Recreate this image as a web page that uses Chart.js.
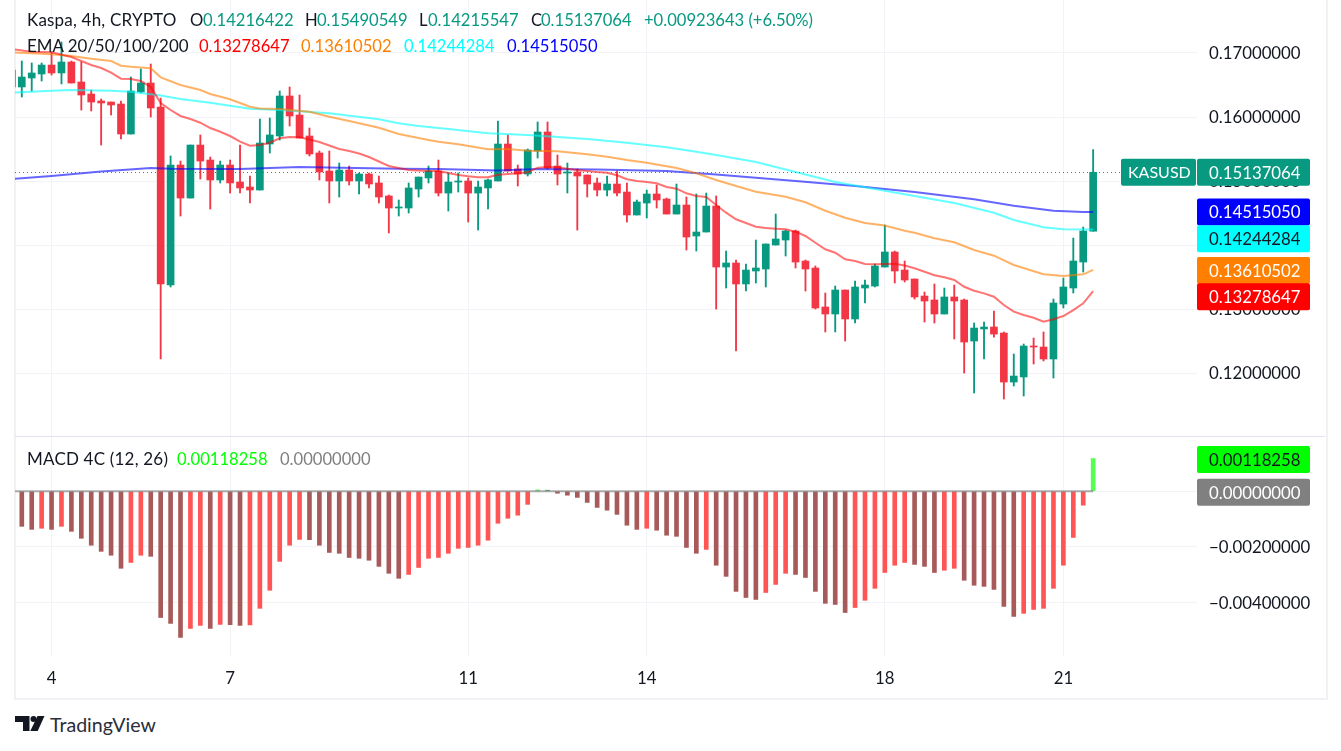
<!DOCTYPE html>
<html>
<head>
<meta charset="utf-8">
<title>Kaspa 4h</title>
<script src="https://cdn.jsdelivr.net/npm/chart.js@4/dist/chart.umd.min.js"></script>
<style>
    html, body { margin: 0; padding: 0; background: #fff; }
    body { width: 1341px; height: 751px; position: relative; overflow: hidden; font-family: Lato, sans-serif; color: #131722; }
    canvas { position: absolute; left: 0; }
    #frame { position: absolute; left: 14px; top: -4px; width: 1310px; height: 700px; border: 2px solid #f0f0f5; }
    #sep { position: absolute; left: 15px; top: 436px; width: 1310px; height: 1px; background: #e0e3eb; }
    .t { position: absolute; font-size: 16.6px; line-height: 20px; white-space: pre; }
    .n { font-size: 17px; letter-spacing: 0.2px; }
    .g { color: #089981; }
    #logo { position: absolute; left: 15px; top: 716px; }
    #brand { position: absolute; left: 50px; top: 713px; font-family: Lato, sans-serif; font-size: 19.6px; line-height: 24px; color: #2a2e39; }
</style>
</head>
<body>
<div id="frame"></div>
<canvas id="priceChart" width="1325" height="436" style="top:0"></canvas>
<canvas id="macdChart" width="1325" height="259" style="top:437px"></canvas>
<div id="sep"></div>

<div class="t n" style="left:27px;top:10px">Kaspa, 4h, CRYPTO</div>
<div class="t" style="left:190px;top:10px">O</div><div class="t g" style="left:203px;top:10px">0.14216422</div>
<div class="t" style="left:305px;top:10px">H</div><div class="t g" style="left:317px;top:10px">0.15490549</div>
<div class="t" style="left:419px;top:10px">L</div><div class="t g" style="left:428px;top:10px">0.14215547</div>
<div class="t" style="left:531px;top:10px">C</div><div class="t g" style="left:541px;top:10px">0.15137064</div>
<div class="t g" style="left:644px;top:10px">+0.00923643 (+6.50%)</div>

<div class="t" style="left:27px;top:36px;font-size:16.9px">EMA 20/50/100/200</div>
<div class="t" style="left:199px;top:36px;color:#ff0000">0.13278647</div>
<div class="t" style="left:301px;top:36px;color:#ff7f00">0.13610502</div>
<div class="t" style="left:404px;top:36px;color:#00ffff">0.14244284</div>
<div class="t" style="left:507px;top:36px;color:#0000ff">0.14515050</div>

<div class="t n" style="left:27px;top:449px">MACD 4C (12, 26)</div>
<div class="t" style="left:177px;top:449px;color:#00ff00">0.00118258</div>
<div class="t" style="left:280px;top:449px;color:#808080">0.00000000</div>

<svg id="logo" width="30" height="15" viewBox="0 0 30 15">
    <path d="M0 0h14.5v15h-6.5v-9h-8z" fill="#131722"/>
    <circle cx="18.5" cy="3" r="3" fill="#131722"/>
    <path d="M22.5 0h7l-6.8 15h-7.4z" fill="#131722"/>
</svg>
<div id="brand">TradingView</div>

<script>
// candles, oldest first. the first one sits almost fully behind the left edge
const opens = [0.16734,
    0.16469, 0.16609, 0.16672, 0.16812, 0.16688, 0.16859, 0.16547, 0.16359, 0.16250,
    0.16234, 0.16203, 0.15734, 0.16391, 0.16531, 0.16156, 0.13375, 0.15250, 0.14734, 0.15562,
    0.15328, 0.15016, 0.15250, 0.14984, 0.14906, 0.14859, 0.15578, 0.15703, 0.16328, 0.16031,
    0.15703, 0.15438, 0.15156, 0.15000, 0.15172, 0.15000, 0.15109, 0.14969, 0.14766, 0.14578,
    0.14578, 0.14875, 0.15047, 0.15156, 0.14812, 0.14984, 0.15000, 0.14812, 0.14891, 0.15000,
    0.15578, 0.15188, 0.15109, 0.15469, 0.15766, 0.15234, 0.15125, 0.15141, 0.15094, 0.14969,
    0.14859, 0.14953, 0.14828, 0.14469, 0.14656, 0.14797, 0.14719, 0.14484, 0.14625, 0.14141,
    0.14203, 0.14609, 0.13656, 0.13719, 0.13391, 0.13594, 0.13625, 0.14000, 0.14078, 0.14219,
    0.13750, 0.13641, 0.13031, 0.12922, 0.13297, 0.12844, 0.13328, 0.13359, 0.13656, 0.13891,
    0.13609, 0.13469, 0.13203, 0.13141, 0.12922, 0.13188, 0.13141, 0.12500, 0.12688, 0.12719,
    0.12625, 0.11859, 0.11938, 0.12422, 0.12406, 0.12219, 0.13078, 0.13328, 0.13734, 0.14216];
const highs = [0.16812,
    0.16875, 0.16844, 0.16844, 0.17016, 0.17172, 0.16875, 0.16859, 0.16422, 0.16281,
    0.16234, 0.16250, 0.16625, 0.16750, 0.16828, 0.16297, 0.15391, 0.15312, 0.15562, 0.15719,
    0.15375, 0.15312, 0.15328, 0.15562, 0.15078, 0.15969, 0.15984, 0.16406, 0.16469, 0.16344,
    0.15828, 0.15469, 0.15469, 0.15281, 0.15234, 0.15125, 0.15125, 0.15078, 0.14781, 0.14703,
    0.14969, 0.15062, 0.15234, 0.15328, 0.15125, 0.15125, 0.15047, 0.15000, 0.15031, 0.15938,
    0.15719, 0.15250, 0.15500, 0.15922, 0.15922, 0.15406, 0.15281, 0.15188, 0.15094, 0.15047,
    0.15078, 0.15156, 0.14969, 0.14703, 0.14859, 0.14938, 0.14734, 0.14953, 0.14750, 0.14797,
    0.14812, 0.14766, 0.13906, 0.13766, 0.13703, 0.14078, 0.14016, 0.14484, 0.14234, 0.14234,
    0.13766, 0.13672, 0.13250, 0.13359, 0.13297, 0.13438, 0.13453, 0.13703, 0.14312, 0.13906,
    0.13750, 0.13469, 0.13266, 0.13391, 0.13328, 0.13375, 0.13156, 0.12781, 0.12797, 0.12969,
    0.12641, 0.12297, 0.12453, 0.12547, 0.12641, 0.13156, 0.13484, 0.14109, 0.14281, 0.15491];
const lows = [0.16469,
    0.16312, 0.16406, 0.16562, 0.16656, 0.16516, 0.16531, 0.16109, 0.16094, 0.15562,
    0.16031, 0.15656, 0.15734, 0.16375, 0.16000, 0.12219, 0.13344, 0.14453, 0.14734, 0.15031,
    0.14562, 0.14969, 0.14812, 0.14812, 0.14656, 0.14859, 0.15438, 0.15641, 0.15859, 0.15672,
    0.15391, 0.15016, 0.14656, 0.14750, 0.14938, 0.14797, 0.14891, 0.14656, 0.14188, 0.14453,
    0.14500, 0.14750, 0.14969, 0.14766, 0.14531, 0.14828, 0.14359, 0.14234, 0.14562, 0.15000,
    0.15156, 0.14922, 0.15078, 0.15359, 0.15188, 0.14938, 0.14812, 0.14234, 0.14750, 0.14766,
    0.14766, 0.14766, 0.14359, 0.14469, 0.14422, 0.14578, 0.14484, 0.14484, 0.13922, 0.13906,
    0.14203, 0.13000, 0.13328, 0.12344, 0.13281, 0.13406, 0.13344, 0.14000, 0.13828, 0.13641,
    0.13281, 0.13000, 0.12641, 0.12641, 0.12500, 0.12781, 0.13094, 0.13344, 0.13656, 0.13406,
    0.13422, 0.13156, 0.12797, 0.12781, 0.12922, 0.12531, 0.12000, 0.11688, 0.12219, 0.12562,
    0.11594, 0.11797, 0.11641, 0.12141, 0.12188, 0.11922, 0.13016, 0.13250, 0.13578, 0.14216];
const closes = [0.16469,
    0.16625, 0.16688, 0.16812, 0.16688, 0.16859, 0.16531, 0.16344, 0.16234, 0.16219,
    0.16188, 0.15734, 0.16406, 0.16531, 0.16141, 0.13391, 0.15250, 0.14734, 0.15562, 0.15312,
    0.15016, 0.15250, 0.14969, 0.14891, 0.14859, 0.15594, 0.15719, 0.16328, 0.16016, 0.15672,
    0.15422, 0.15141, 0.15000, 0.15172, 0.15000, 0.15109, 0.14953, 0.14750, 0.14578, 0.14594,
    0.14891, 0.15062, 0.15156, 0.14812, 0.14984, 0.15000, 0.14812, 0.14906, 0.15016, 0.15578,
    0.15156, 0.15109, 0.15484, 0.15766, 0.15203, 0.15109, 0.15141, 0.15078, 0.14953, 0.14859,
    0.14953, 0.14812, 0.14469, 0.14672, 0.14797, 0.14703, 0.14484, 0.14625, 0.14125, 0.14203,
    0.14609, 0.13656, 0.13719, 0.13391, 0.13609, 0.13641, 0.14016, 0.14094, 0.14219, 0.13734,
    0.13625, 0.13016, 0.12922, 0.13297, 0.12844, 0.13344, 0.13375, 0.13672, 0.13891, 0.13594,
    0.13453, 0.13188, 0.13125, 0.12922, 0.13188, 0.13125, 0.12484, 0.12703, 0.12719, 0.12609,
    0.11859, 0.11953, 0.12422, 0.12406, 0.12219, 0.13094, 0.13344, 0.13750, 0.14219, 0.15137];

// EMA lines, read where they could be told apart from the candles
const ema20Idx = [-1, 1, 3, 5, 6, 7, 8, 9, 10, 11, 12, 13, 14, 15, 16, 17, 18, 19, 20, 21, 22, 23, 24, 25, 26, 27, 28, 29,
    30, 31, 32, 33, 34, 35, 36, 37, 38, 39, 40, 41, 42, 43, 44, 45, 46, 47, 48, 49, 50, 51, 52, 53, 54, 55, 56, 57, 58, 59,
    60, 61, 62, 63, 64, 65, 66, 67, 68, 69, 70, 71, 72, 73, 74, 75, 76, 77, 78, 79, 80, 81, 82, 83, 84, 85, 86, 87, 88, 89,
    90, 91, 92, 93, 94, 95, 96, 97, 98, 99, 100, 101, 102, 103, 104, 105, 106, 107, 108];
const ema20 = [0.17063, 0.17020, 0.17011, 0.16938, 0.16875, 0.16812, 0.16766, 0.16692, 0.16598, 0.16594, 0.16562, 0.16469, 0.16219, 0.16109, 0.16016, 0.15969, 0.15911, 0.15828, 0.15770, 0.15703, 0.15614, 0.15552, 0.15562, 0.15598, 0.15667, 0.15688, 0.15683, 0.15648,
    0.15609, 0.15555, 0.15500, 0.15469, 0.15430, 0.15375, 0.15305, 0.15234, 0.15203, 0.15172, 0.15164, 0.15156, 0.15156, 0.15125, 0.15094, 0.15073, 0.15058, 0.15058, 0.15098, 0.15109, 0.15120, 0.15136, 0.15208, 0.15219, 0.15214, 0.15192, 0.15172, 0.15156, 0.15141, 0.15130,
    0.15089, 0.15027, 0.15000, 0.14984, 0.14964, 0.14906, 0.14880, 0.14808, 0.14766, 0.14750, 0.14625, 0.14505, 0.14402, 0.14344, 0.14286, 0.14266, 0.14255, 0.14245, 0.14208, 0.14141, 0.14036, 0.13933, 0.13880, 0.13777, 0.13750, 0.13703, 0.13698, 0.13703, 0.13706, 0.13680,
    0.13636, 0.13583, 0.13527, 0.13495, 0.13453, 0.13348, 0.13286, 0.13245, 0.13192, 0.13062, 0.12958, 0.12906, 0.12864, 0.12802, 0.12839, 0.12891, 0.12984, 0.13089, 0.13279];
const ema50Idx = [-1, 3, 5, 7, 9, 10, 11, 13, 14, 16, 18, 19, 21, 23, 24, 26, 29, 31, 33, 36, 38, 41, 42, 44, 47, 49, 51, 54, 57, 59,
    61, 63, 66, 68, 70, 72, 74, 77, 79, 81, 83, 85, 87, 89, 90, 92, 94, 96, 98, 100, 103, 105, 107, 108];
const ema50 = [0.17011, 0.16980, 0.16953, 0.16911, 0.16875, 0.16802, 0.16786, 0.16761, 0.16620, 0.16500, 0.16422, 0.16359, 0.16277, 0.16161, 0.16133, 0.16125, 0.16083, 0.16005, 0.15938, 0.15833, 0.15734, 0.15641, 0.15614, 0.15573, 0.15495, 0.15500, 0.15473, 0.15464, 0.15417, 0.15380,
    0.15328, 0.15286, 0.15203, 0.15120, 0.15016, 0.14922, 0.14833, 0.14755, 0.14667, 0.14536, 0.14427, 0.14344, 0.14305, 0.14223, 0.14192, 0.14105, 0.14042, 0.13922, 0.13833, 0.13688, 0.13542, 0.13516, 0.13542, 0.13611];
const ema100Idx = [-1, 3, 5, 9, 11, 14, 16, 19, 23, 26, 31, 36, 38, 40, 43, 47, 51, 57, 61, 65, 68, 70, 74, 78, 82, 86, 90, 94, 98, 100, 103, 105, 108];
const ema100 = [0.16380, 0.16411, 0.16422, 0.16411, 0.16395, 0.16336, 0.16281, 0.16223, 0.16130, 0.16109, 0.16058, 0.15964, 0.15902, 0.15859, 0.15812, 0.15745, 0.15719, 0.15656, 0.15598, 0.15527, 0.15458, 0.15406, 0.15297, 0.15141, 0.14984, 0.14875, 0.14766, 0.14656, 0.14505, 0.14391, 0.14277, 0.14245, 0.14244];
const ema200Idx = [-1, 3, 8, 13, 15, 22, 28, 38, 42, 48, 52, 58, 65, 70, 78, 84, 90, 96, 100, 104, 107, 108];
const ema200 = [0.15031, 0.15078, 0.15148, 0.15203, 0.15192, 0.15188, 0.15219, 0.15192, 0.15188, 0.15164, 0.15188, 0.15180, 0.15156, 0.15102, 0.15000, 0.14922, 0.14828, 0.14714, 0.14614, 0.14536, 0.14516, 0.14515];

// MACD 4C histogram, same candles without the hidden first one
const macd = [null,
    -0.00126, -0.00137, -0.00133, -0.00137, -0.00126, -0.00144, -0.00169, -0.00194, -0.00216, -0.00230,
    -0.00277, -0.00256, -0.00230, -0.00234, -0.00454, -0.00475, -0.00526, -0.00493, -0.00482, -0.00493,
    -0.00479, -0.00480, -0.00482, -0.00481, -0.00421, -0.00356, -0.00252, -0.00194, -0.00173, -0.00174,
    -0.00194, -0.00220, -0.00223, -0.00238, -0.00241, -0.00248, -0.00270, -0.00295, -0.00313, -0.00299,
    -0.00274, -0.00241, -0.00238, -0.00223, -0.00205, -0.00202, -0.00194, -0.00176, -0.00115, -0.00097,
    -0.00086, -0.00047, 0.00005, 0.00004, -0.00007, -0.00014, -0.00022, -0.00040, -0.00058, -0.00068,
    -0.00083, -0.00122, -0.00137, -0.00133, -0.00140, -0.00158, -0.00162, -0.00202, -0.00223, -0.00209,
    -0.00266, -0.00306, -0.00360, -0.00382, -0.00389, -0.00364, -0.00335, -0.00295, -0.00299, -0.00310,
    -0.00360, -0.00403, -0.00407, -0.00436, -0.00418, -0.00392, -0.00349, -0.00292, -0.00266, -0.00256,
    -0.00263, -0.00270, -0.00292, -0.00284, -0.00277, -0.00320, -0.00338, -0.00342, -0.00353, -0.00414,
    -0.00450, -0.00439, -0.00425, -0.00421, -0.00349, -0.00266, -0.00166, -0.00050, 0.00118];

// day labels on the time axis and the candle each one belongs to
const dayTicks = [3, 21, 45, 63, 87, 105];
const dayLabels = ['4', '7', '11', '14', '18', '21'];

const lastClose = 0.15137064;
const macdLast = 0.00118258;

const upColor = '#089981';
const downColor = '#f23645';
const gridColor = '#f1f3f8';
const tickFont = { family: 'Lato, sans-serif', size: 16.8 };

const candleX = opens.map((o, i) => i - 1);
const candleColors = opens.map((o, i) => closes[i] >= o ? upColor : downColor);

// 4 colour histogram: the shade depends on the bar before it
const macdColors = macd.map((v, i) => {
    const rising = i > 1 && v > macd[i - 1];
    if (v >= 0) return rising ? '#55ff55' : '#58a858';
    return rising ? '#ff5555' : '#a85a5a';
});

function points(idx, values) {
    return idx.map((x, i) => ({ x: x, y: values[i] }));
}

function emaLine(label, idx, values, color, order) {
    return {
        type: 'line',
        label: label,
        data: points(idx, values),
        borderColor: color,
        borderWidth: 2,
        pointRadius: 0,
        tension: 0,
        order: order
    };
}

// the labels would otherwise push the plot area in from the canvas edges
function noPadding(scale) {
    scale.paddingTop = 0;
    scale.paddingBottom = 0;
    scale.paddingLeft = 0;
    scale.paddingRight = 0;
}

function xAxis(showLabels, height) {
    return {
        type: 'linear',
        offset: false,
        min: -0.685,
        max: 118.47,
        afterBuildTicks: function (scale) {
            scale.ticks = dayTicks.map(v => ({ value: v }));
        },
        afterFit: function (scale) {
            scale.height = height;
            noPadding(scale);
        },
        grid: { color: gridColor, drawTicks: false, offset: false },
        border: { display: false },
        ticks: {
            display: showLabels,
            autoSkip: false,
            maxRotation: 0,
            padding: 13,
            color: '#131722',
            font: tickFont,
            callback: function (value) { return dayLabels[dayTicks.indexOf(value)]; }
        }
    };
}

function yAxis(min, max, step) {
    return {
        position: 'right',
        min: min,
        max: max,
        afterFit: function (scale) {
            scale.width = 128;
            noPadding(scale);
        },
        grid: { color: gridColor, drawTicks: false },
        border: { display: false },
        ticks: {
            stepSize: step,
            includeBounds: false,
            padding: 12,
            labelOffset: 1,
            color: '#131722',
            font: tickFont,
            callback: function (value) { return value.toFixed(8).replace('-', '\u2212'); }
        }
    };
}

// price tags on the right, some are pushed down so they don't overlap
function tagPlugin(tags) {
    return {
        id: 'tags',
        afterDraw: function (chart) {
            const ctx = chart.ctx;
            const left = chart.chartArea.right;
            ctx.save();
            ctx.textBaseline = 'middle';
            tags.forEach(function (tag) {
                const y = chart.scales.y.getPixelForValue(tag.value) + tag.nudge;
                ctx.fillStyle = tag.color;
                ctx.beginPath();
                ctx.roundRect(left, y - 13.5, 113, 27, 2);
                if (tag.name) {
                    ctx.roundRect(left - 76, y - 13.5, 75, 27, 2);
                }
                ctx.fill();
                ctx.fillStyle = tag.text;
                ctx.font = '16.8px Lato, sans-serif';
                ctx.fillText(tag.value.toFixed(8), left + 12, y + 1);
                if (tag.name) {
                    ctx.font = '16px Lato, sans-serif';
                    ctx.fillText(tag.name, left - 69, y + 1);
                }
            });
            ctx.restore();
        }
    };
}

const lastPriceLine = {
    id: 'lastPriceLine',
    afterDatasetsDraw: function (chart) {
        const ctx = chart.ctx;
        const y = Math.round(chart.scales.y.getPixelForValue(lastClose)) + 0.5;
        ctx.save();
        ctx.strokeStyle = upColor;
        ctx.setLineDash([1, 3]);
        ctx.beginPath();
        ctx.moveTo(chart.chartArea.left, y);
        ctx.lineTo(chart.chartArea.right, y);
        ctx.stroke();
        ctx.restore();
    }
};

const priceChart = new Chart(document.getElementById('priceChart').getContext('2d'), {
    type: 'bar',
    data: {
        datasets: [
            emaLine('EMA 20', ema20Idx, ema20, 'rgba(255, 0, 0, 0.55)', 1),
            emaLine('EMA 50', ema50Idx, ema50, 'rgba(255, 127, 0, 0.6)', 2),
            emaLine('EMA 100', ema100Idx, ema100, 'rgba(0, 255, 255, 0.6)', 3),
            emaLine('EMA 200', ema200Idx, ema200, 'rgba(0, 0, 255, 0.6)', 4),
            {
                label: 'Body',
                data: candleX.map((x, i) => ({ x: x, y: [opens[i], closes[i]] })),
                backgroundColor: candleColors,
                barThickness: 7,
                grouped: false,
                order: 5
            },
            {
                label: 'Wick',
                data: candleX.map((x, i) => ({ x: x, y: [lows[i], highs[i]] })),
                backgroundColor: candleColors,
                barThickness: 1.2,
                grouped: false,
                order: 6
            }
        ]
    },
    options: {
        responsive: false,
        animation: false,
        devicePixelRatio: 1,
        layout: { autoPadding: false, padding: { left: 15 } },
        plugins: { legend: { display: false }, tooltip: { enabled: false } },
        scales: {
            x: xAxis(false, 0),
            y: yAxis(0.11016, 0.17828, 0.01)
        }
    },
    plugins: [lastPriceLine, tagPlugin([
        { value: 0.15137064, nudge: 0, color: upColor, text: '#fff', name: 'KASUSD' },
        { value: 0.14515050, nudge: 0, color: '#0000ff', text: '#fff' },
        { value: 0.14244284, nudge: 9.5, color: '#00ffff', text: '#131722' },
        { value: 0.13610502, nudge: 0.5, color: '#ff7f00', text: '#fff' },
        { value: 0.13278647, nudge: 5.5, color: '#ff0000', text: '#fff' }
    ])]
});

const macdChart = new Chart(document.getElementById('macdChart').getContext('2d'), {
    type: 'bar',
    data: {
        datasets: [
            {
                type: 'line',
                label: 'Signal',
                data: candleX.map(x => ({ x: x, y: 0 })),
                borderColor: 'rgba(128, 128, 128, 0.65)',
                borderWidth: 2,
                pointRadius: 0,
                order: 1
            },
            {
                label: 'MACD',
                data: candleX.map((x, i) => ({ x: x, y: macd[i] })),
                backgroundColor: macdColors,
                barThickness: 4,
                order: 2
            }
        ]
    },
    options: {
        responsive: false,
        animation: false,
        devicePixelRatio: 1,
        layout: { autoPadding: false, padding: { left: 15 } },
        plugins: { legend: { display: false }, tooltip: { enabled: false } },
        scales: {
            x: xAxis(true, 40),
            y: yAxis(-0.005924, 0.001953, 0.002)
        }
    },
    plugins: [tagPlugin([
        { value: macdLast, nudge: 1, color: '#00ff00', text: '#131722' },
        { value: 0, nudge: 1, color: '#808080', text: '#fff' }
    ])]
});
</script>
</body>
</html>
